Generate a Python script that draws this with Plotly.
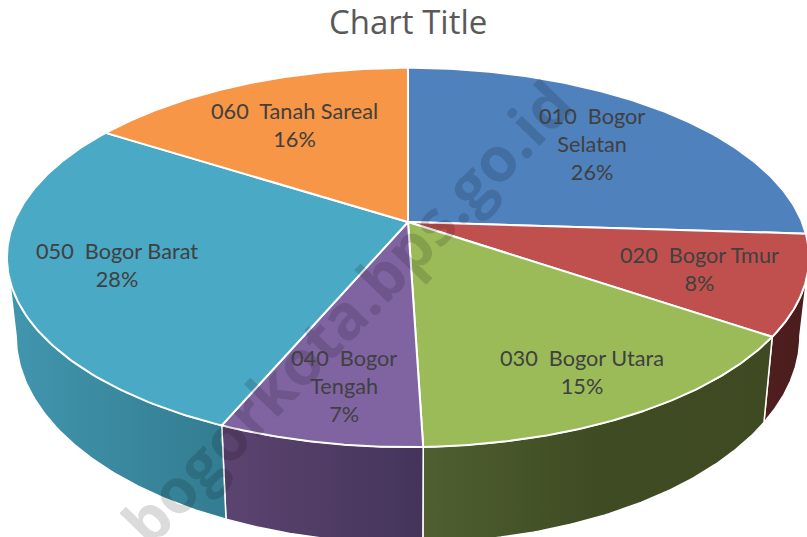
import numpy as np
import plotly.graph_objects as go

names = ["010  Bogor Selatan", "020  Bogor Tmur", "030  Bogor Utara",
         "040  Bogor Tengah", "050  Bogor Barat", "060  Tanah Sareal"]
label_lines = [["010  Bogor", "Selatan"], ["020  Bogor Tmur"], ["030  Bogor Utara"],
               ["040  Bogor", "Tengah"], ["050  Bogor Barat"], ["060  Tanah Sareal"]]
values = [26.0, 8.49, 15.01, 6.9, 27.6, 16.0]
percent_labels = ["26%", "8%", "15%", "7%", "28%", "16%"]
title_text = "Chart Title"
watermark_text = "bogorkota.bps.go.id"

# Styling and layout (not data)
TOP = ["#4f81bd", "#c0504d", "#9bbb59", "#8064a2", "#4aa9c4", "#f79646"]
SIDE = [None,
        [[0, "#4f1f1e"], [1, "#4a1c1c"]],
        [[0, "#4f5f30"], [0.5, "#3f4b23"], [1, "#3f4a22"]],
        [[0, "#5c4470"], [1, "#44345a"]],
        [[0, "#4196ae"], [1, "#337c91"]],
        None]
LABEL_XY = [(592, 144), (699, 269), (582, 372), (344, 386), (117, 265), (294, 125)]
K = 0.187
TOP_GEOM = (408, 222, 394, 183)
BOT_GEOM = (408, 297, 385, 200)
SILHOUETTE = np.degrees(np.arccos(-K))


def project(theta_deg, geom):
    cx, cy, a, b = geom
    t = np.radians(theta_deg)
    u, v = np.sin(t), -np.cos(t)
    w = 1 - K * v
    return cx + a * u / w, cy + b * v / w


fig = go.Figure()
edges = np.concatenate([[0], np.cumsum(values)]) / np.sum(values) * 360

# side walls
for i, side in enumerate(SIDE):
    if side is None:
        continue
    a0 = max(edges[i], SILHOUETTE)
    a1 = min(edges[i + 1], 360 - SILHOUETTE)
    th = np.linspace(a0, a1, 80)
    x1, y1 = project(th, TOP_GEOM)
    x2, y2 = project(th[::-1], BOT_GEOM)
    fig.add_trace(go.Scatter(
        x=np.r_[x1, x2, x1[0]], y=np.r_[y1, y2, y1[0]], mode="lines", fill="toself",
        line=dict(color="white", width=1.5),
        fillgradient=dict(type="horizontal", colorscale=side),
        hoverinfo="skip", showlegend=False))

# top faces
for i, name in enumerate(names):
    th = np.linspace(edges[i], edges[i + 1], 120)
    x, y = project(th, TOP_GEOM)
    fig.add_trace(go.Scatter(
        x=np.r_[TOP_GEOM[0], x, TOP_GEOM[0]], y=np.r_[TOP_GEOM[1], y, TOP_GEOM[1]],
        mode="lines", fill="toself", fillcolor=TOP[i],
        line=dict(color="white", width=2), name=name, showlegend=False,
        text=f"{name}: {percent_labels[i]}", hoverinfo="text"))

annotations = [
    dict(x=346, y=312, xref="x", yref="y", text=watermark_text, showarrow=False,
         textangle=-46, font=dict(family="Open Sans", size=62, color="rgba(0,0,0,0.14)", weight=700)),
    dict(x=408, y=21, xref="x", yref="y", text=title_text, showarrow=False,
         font=dict(family="Open Sans", size=33, color="#595959")),
]
for lines, pct, (x, y) in zip(label_lines, percent_labels, LABEL_XY):
    txt = "<br>".join([l.replace(" ", "\u00a0") for l in lines] + [pct])
    annotations.append(dict(x=x, y=y, xref="x", yref="y", text=txt, showarrow=False,
                            font=dict(family="Lato", size=21.7, color="#404040"),
                            align="center"))

fig.update_layout(
    width=807, height=537, margin=dict(l=0, r=0, t=0, b=0),
    paper_bgcolor="white", plot_bgcolor="white",
    xaxis=dict(range=[0, 807], visible=False, fixedrange=True),
    yaxis=dict(range=[537, 0], visible=False, fixedrange=True),
    annotations=annotations, showlegend=False)

fig.write_html("out.html", config={"displayModeBar": False},
               post_script="document.body.style.margin='0';document.documentElement.style.overflow='hidden';")
